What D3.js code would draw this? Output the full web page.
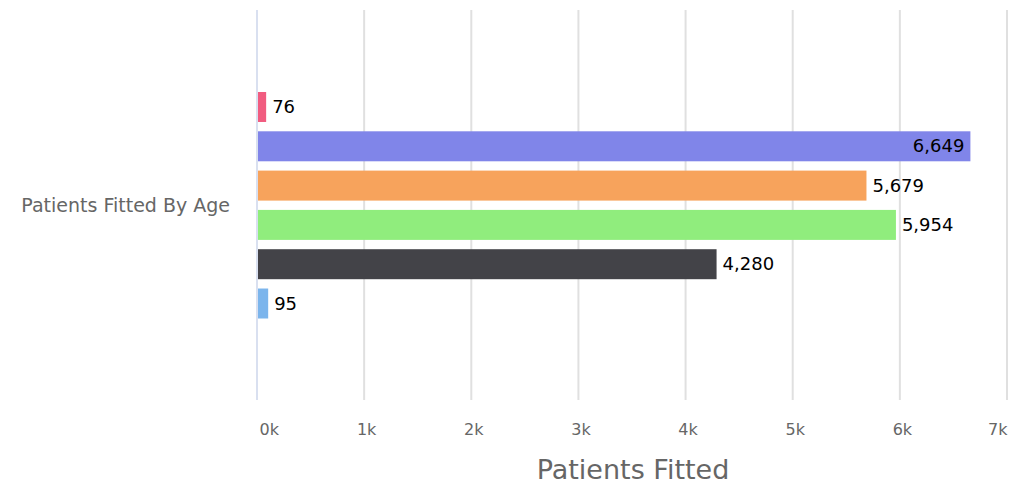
<!DOCTYPE html>
<html>
<head>
<meta charset="utf-8">
<script src="https://cdnjs.cloudflare.com/ajax/libs/d3/7.8.5/d3.min.js"></script>
<style>
  body { margin: 0; background: #fff; }
  svg { display: block; font-family: "DejaVu Sans", sans-serif; }
</style>
</head>
<body>
<div id="chart"></div>
<script>
// series drawn bottom-up, like the original
const seriesValues = [95, 4280, 5954, 5679, 6649, 76];
const seriesColors = ["#7cb5ec", "#434348", "#90ed7d", "#f7a35c", "#8085e9", "#f15c80"];
const category = "Patients Fitted By Age";
const xTicks = [0, 1000, 2000, 3000, 4000, 5000, 6000, 7000];
const xTitle = "Patients Fitted";

const width = 1009, height = 484,
    margin = { top: 10, right: 2, bottom: 84, left: 257 };

const svg = d3.select("#chart").append("svg")
    .attr("width", width).attr("height", height);

const x = d3.scaleLinear().domain([0, 7000]).range([margin.left, width - margin.right]);
const yBand = d3.scaleBand().domain([category]).range([margin.top, height - margin.bottom]);

// series slots inside the category band, top = last series
const slots = d3.scaleBand()
    .domain(d3.range(seriesValues.length).reverse())
    .range([yBand(category) + 82, yBand(category) + yBand.bandwidth() - 81.5])
    .paddingInner(0.237);

// grid
svg.append("g")
    .selectAll("line")
    .data(xTicks.slice(1))
    .join("line")
    .attr("x1", d => x(d)).attr("x2", d => x(d))
    .attr("y1", margin.top).attr("y2", height - margin.bottom)
    .attr("stroke", "#e0e0e0")
    .attr("stroke-width", 2);

// y axis line
svg.append("line")
    .attr("x1", x(0)).attr("x2", x(0))
    .attr("y1", margin.top).attr("y2", height - margin.bottom)
    .attr("stroke", "#ccd6eb").attr("stroke-width", 1.5);

// x tick labels
svg.append("g")
    .attr("transform", `translate(0,${height - margin.bottom})`)
    .call(d3.axisBottom(x).tickValues(xTicks).tickSize(0).tickPadding(24)
        .tickFormat(d => (d / 1000) + "k"))
    .call(g => g.select(".domain").remove())
    .call(g => g.selectAll("text")
        .attr("x", 2)
        .attr("fill", "#666")
        .style("font-size", "16px")
        .style("font-family", "'DejaVu Sans', sans-serif"))
    .call(g => g.select(".tick:first-of-type text").attr("text-anchor", "start").attr("x", 2))
    .call(g => g.select(".tick:last-of-type text").attr("text-anchor", "end").attr("x", 0));

svg.append("text")
    .attr("x", 633)
    .attr("y", 479)
    .attr("text-anchor", "middle")
    .attr("fill", "#666")
    .style("font-size", "27px")
    .text(xTitle);

svg.append("text")
    .attr("x", 230)
    .attr("y", yBand(category) + yBand.bandwidth() / 2 + 7)
    .attr("text-anchor", "end")
    .attr("fill", "#666")
    .style("font-size", "19px")
    .text(category);

// bars
svg.append("g")
    .selectAll("rect")
    .data(seriesValues)
    .join("rect")
    .attr("x", x(0) + 1)
    .attr("y", (d, i) => slots(i))
    .attr("width", d => x(d) - x(0))
    .attr("height", slots.bandwidth())
    .attr("fill", (d, i) => seriesColors[i]);

// value labels
const fmt = d3.format(",");
svg.append("g")
    .selectAll("text")
    .data(seriesValues)
    .join("text")
    .attr("x", d => x(d) + 62 > width ? x(d) - 5 : x(d) + 7)
    .attr("y", (d, i) => slots(i) + slots.bandwidth() / 2 + 6)
    .attr("text-anchor", d => x(d) + 62 > width ? "end" : "start")
    .attr("fill", "#000")
    .style("font-size", "18px")
    .text(d => fmt(d));
</script>
</body>
</html>
